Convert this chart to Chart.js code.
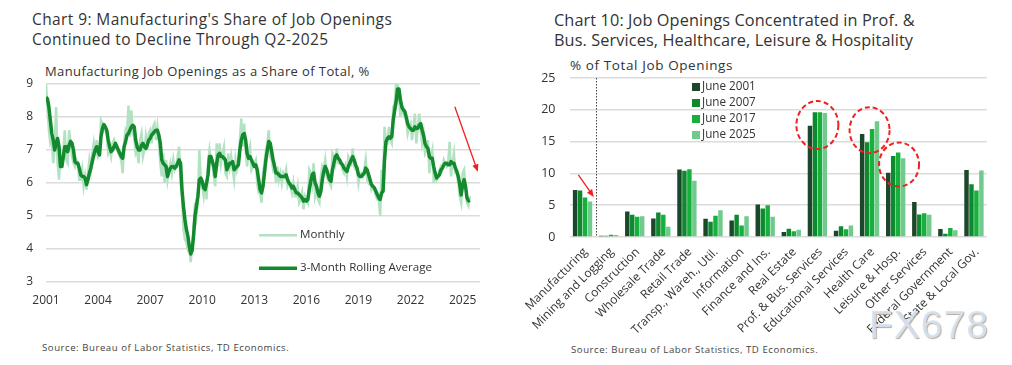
<!DOCTYPE html>
<html>
<head>
<meta charset="utf-8">
<script src="https://cdn.jsdelivr.net/npm/chart.js@4.4.1/dist/chart.umd.min.js"></script>
<style>
  body { margin: 0; background: #fff; width: 1012px; height: 365px; overflow: hidden; position: relative; font-family: "Open Sans", sans-serif; color: #333; }
  .title { position: absolute; white-space: nowrap; color: #333; }
  .sub { position: absolute; white-space: nowrap; color: #333; }
  .src { position: absolute; font-size: 9.6px; letter-spacing: 0.55px; white-space: nowrap; color: #444; }
  .wm { position: absolute; left: 869px; top: 303px; font: 39px "Liberation Sans", sans-serif; letter-spacing: 1px; color: rgba(214, 227, 242, 0.9); text-shadow: 1px 1px 1px rgba(170, 150, 130, 0.8); }
  canvas { position: absolute; top: 0; }
</style>
</head>
<body>
<div class="title" style="left:32px; top:10px; font-size:15.5px; letter-spacing:0.4px; line-height:19.5px;">Chart 9: Manufacturing's Share of Job Openings<br>Continued to Decline Through Q2-2025</div>
<div class="sub" style="left:45px; top:62px; font-size:13px; letter-spacing:0.4px;">Manufacturing Job Openings as a Share of Total, %</div>
<div class="src" style="left:42px; top:341px;">Source: Bureau of Labor Statistics, TD Economics.</div>

<div class="title" style="left:554px; top:10px; font-size:16.3px; letter-spacing:0.1px; line-height:20px;">Chart 10: Job Openings Concentrated in Prof. &amp;<br>Bus. Services, Healthcare, Leisure &amp; Hospitality</div>
<div class="sub" style="left:570px; top:56px; font-size:13.5px; letter-spacing:0.6px;">% of Total Job Openings</div>
<div class="src" style="left:571px; top:343px;">Source: Bureau of Labor Statistics, TD Economics.</div>

<canvas id="c1" width="500" height="365" style="left:0"></canvas>
<canvas id="c2" width="506" height="365" style="left:506px"></canvas>
<div class="wm">FX678</div>

<script>
// ---- Chart 9 data: monthly, Jan 2001 - Jun 2025 ----
const startYear = 2001;
const yearTicks = [2001, 2004, 2007, 2010, 2013, 2016, 2019, 2022, 2025];

const monthly = [
  9.0, 8.3, 7.6, 7.2, 7.3, 6.6, 7.1, 8.3, 6.6, 6.1, 6.8, 6.7,
  7.0, 7.6, 6.7, 6.6, 7.6, 7.2, 6.8, 6.6, 6.5, 6.7, 6.6, 6.1,
  6.1, 6.4, 5.9, 6.2, 5.8, 6.3, 6.7, 6.4, 6.9, 7.2, 6.8, 7.3,
  6.8, 6.9, 7.9, 7.8, 7.6, 7.7, 7.5, 6.9, 7.0, 6.8, 7.2, 7.3,
  7.1, 7.0, 6.9, 6.8, 6.7, 6.3, 7.2, 7.6, 7.5, 8.35, 7.4, 8.2,
  7.5, 7.4, 6.9, 7.0, 6.6, 7.3, 7.5, 6.8, 7.0, 7.4, 7.0, 7.5,
  7.6, 7.2, 7.7, 7.8, 7.3, 7.7, 7.3, 6.6, 6.2, 6.9, 6.0, 6.7,
  6.1, 6.4, 6.6, 6.3, 6.7, 6.4, 6.5, 6.8, 7.1, 6.0, 5.6, 4.6,
  4.3, 4.2, 4.0, 4.1, 3.6, 4.0, 4.6, 5.4, 5.0, 5.4, 7.0, 6.1,
  5.9, 5.6, 6.0, 5.5, 6.6, 7.0, 6.7, 6.6, 6.2, 5.9, 7.2, 6.5,
  7.2, 6.6, 6.9, 7.1, 6.3, 6.2, 6.9, 6.5, 6.8, 6.4, 6.1, 6.7,
  6.4, 6.6, 7.3, 7.95, 7.1, 7.8, 7.0, 6.5, 6.9, 7.1, 6.4, 6.5,
  6.6, 6.7, 6.0, 5.7, 5.7, 5.4, 6.3, 6.6, 7.0, 7.2, 7.6, 6.8,
  6.7, 6.4, 6.5, 6.0, 6.5, 6.1, 6.3, 6.0, 6.3, 6.2, 6.4, 5.9,
  6.0, 5.9, 5.7, 6.0, 5.6, 5.6, 5.9, 5.4, 5.5, 5.7, 5.2, 5.6,
  5.5, 5.4, 6.4, 6.3, 6.0, 6.6, 5.6, 5.8, 5.5, 5.4, 6.2, 6.5,
  6.4, 6.7, 6.2, 6.1, 6.0, 5.9, 6.9, 6.8, 6.6, 7.05, 6.6, 6.6,
  6.6, 6.4, 6.3, 6.5, 6.2, 6.8, 6.7, 6.6, 7.05, 6.5, 6.4, 6.4,
  6.0, 6.3, 6.3, 6.2, 6.4, 6.7, 6.1, 6.0, 6.1, 5.8, 5.9, 5.8,
  5.6, 5.5, 5.5, 5.0, 6.4, 5.9, 7.7, 7.2, 7.2, 7.7, 7.3, 7.2,
  8.3, 8.4, 9.0, 9.0, 8.6, 8.0, 8.4, 8.1, 8.0, 7.9, 7.5, 7.7,
  7.8, 7.3, 7.7, 8.1, 7.2, 7.7, 8.1, 7.6, 7.2, 7.5, 6.9, 7.0,
  7.3, 6.3, 6.8, 7.0, 6.0, 6.3, 6.1, 6.2, 6.4, 6.5, 6.4, 6.7,
  6.6, 6.5, 6.6, 7.25, 6.2, 6.6, 6.9, 6.3, 6.3, 6.0, 5.6, 5.4,
  6.3, 6.4, 5.9, 5.4, 5.3, 5.6
];

const rollingAvg = [
  8.6, 8.55, 8.3, 7.9, 7.5, 7.3, 7.0, 7.2, 7.35, 7.1, 6.5, 6.5,
  6.8, 7.1, 7.1, 6.95, 7.15, 7.26, 7.2, 7.0, 6.65, 6.6, 6.6, 6.45,
  6.25, 6.2, 6.2, 6.15, 5.95, 6.1, 6.3, 6.45, 6.65, 6.85, 7.0, 7.1,
  6.95, 6.85, 7.4, 7.65, 7.77, 7.7, 7.6, 7.3, 7.1, 6.95, 7.0, 7.1,
  7.2, 7.1, 7.0, 6.9, 6.8, 6.75, 7.1, 7.25, 7.45, 7.5, 7.6, 7.7,
  7.75, 7.7, 7.3, 7.1, 7.0, 7.0, 7.15, 7.2, 7.1, 7.05, 7.15, 7.3,
  7.35, 7.45, 7.5, 7.56, 7.6, 7.6, 7.45, 7.2, 6.7, 6.6, 6.55, 6.5,
  6.2, 6.35, 6.45, 6.5, 6.5, 6.45, 6.5, 6.6, 6.7, 6.6, 5.8, 5.3,
  4.9, 4.6, 4.4, 4.1, 3.85, 3.95, 4.4, 5.0, 5.3, 5.6, 6.1, 6.15,
  6.05, 5.85, 5.8, 6.0, 6.25, 6.8, 6.8, 6.65, 6.5, 6.2, 6.6, 6.85,
  6.9, 6.8, 6.8, 6.75, 6.7, 6.4, 6.5, 6.6, 6.6, 6.65, 6.4, 6.45,
  6.5, 6.55, 7.0, 7.3, 7.46, 7.5, 7.3, 6.9, 6.75, 6.8, 6.7, 6.6,
  6.5, 6.55, 6.4, 6.1, 5.8, 5.7, 5.9, 6.3, 6.7, 7.0, 7.26, 7.2,
  6.95, 6.7, 6.5, 6.3, 6.3, 6.25, 6.2, 6.2, 6.2, 6.2, 6.25, 6.1,
  6.0, 5.95, 5.85, 5.9, 5.8, 5.7, 5.7, 5.65, 5.6, 5.55, 5.45, 5.5,
  5.45, 5.5, 5.8, 6.05, 6.25, 6.3, 6.0, 5.9, 5.7, 5.6, 5.75, 6.1,
  6.35, 6.5, 6.4, 6.25, 6.1, 6.05, 6.4, 6.6, 6.8, 6.85, 6.75, 6.7,
  6.6, 6.55, 6.45, 6.4, 6.35, 6.5, 6.6, 6.7, 6.8, 6.7, 6.55, 6.45,
  6.25, 6.2, 6.2, 6.25, 6.3, 6.45, 6.4, 6.25, 6.1, 5.95, 5.9, 5.85,
  5.75, 5.65, 5.55, 5.5, 5.7, 5.75, 6.7, 7.25, 7.35, 7.4, 7.36, 7.4,
  7.9, 8.2, 8.45, 8.85, 8.85, 8.5, 8.3, 8.22, 8.17, 8.0, 7.8, 7.7,
  7.65, 7.6, 7.6, 7.7, 7.65, 7.66, 7.75, 7.8, 7.6, 7.45, 7.2, 7.1,
  7.05, 6.8, 6.75, 6.75, 6.5, 6.3, 6.15, 6.2, 6.25, 6.4, 6.45, 6.55,
  6.6, 6.6, 6.55, 6.55, 6.65, 6.6, 6.6, 6.45, 6.35, 6.2, 5.95, 5.64,
  5.95, 6.1, 5.9, 5.55, 5.46, 5.48
];

// ---- Chart 10 data ----
const sectors = ['Manufacturing', 'Mining and Logging', 'Construction', 'Wholesale Trade', 'Retail Trade',
  'Transp., Wareh., Util.', 'Information', 'Finance and Ins.', 'Real Estate', 'Prof. & Bus. Services',
  'Educational Services', 'Health Care', 'Leisure & Hosp.', 'Other Services', 'Federal Government', 'State & Local Gov.'];
const june2001 = [7.4, 0.2, 4.0, 2.9, 10.6, 2.85, 2.6, 5.1, 0.8, 17.5, 1.0, 16.2, 10.1, 5.5, 1.25, 10.55];
const june2007 = [7.3, 0.2, 3.5, 3.85, 10.4, 2.4, 3.5, 4.5, 1.3, 19.6, 1.7, 14.9, 12.75, 3.55, 0.5, 8.3];
const june2017 = [6.2, 0.35, 3.2, 3.5, 10.65, 3.35, 1.8, 5.0, 0.9, 19.6, 1.2, 17.0, 13.3, 3.75, 1.4, 7.3];
const june2025 = [5.6, 0.3, 3.25, 1.6, 8.85, 4.2, 3.25, 3.2, 1.15, 19.5, 1.8, 18.2, 12.4, 3.5, 1.05, 10.45];

const FONT = '"Open Sans"';
const TXT = '#333';
const GRID = '#dcdcdc';
const RED = '#f02020';

function arrow(ctx, x1, y1, x2, y2) {
  const a = Math.atan2(y2 - y1, x2 - x1), h = 8;
  ctx.save();
  ctx.strokeStyle = RED; ctx.fillStyle = RED; ctx.lineWidth = 1.3;
  ctx.beginPath(); ctx.moveTo(x1, y1); ctx.lineTo(x2 - Math.cos(a) * h * 0.8, y2 - Math.sin(a) * h * 0.8); ctx.stroke();
  ctx.beginPath();
  ctx.moveTo(x2, y2);
  ctx.lineTo(x2 - h * Math.cos(a - 0.4), y2 - h * Math.sin(a - 0.4));
  ctx.lineTo(x2 - h * Math.cos(a + 0.4), y2 - h * Math.sin(a + 0.4));
  ctx.closePath(); ctx.fill();
  ctx.restore();
}

// legend + arrow for chart 9
const lineExtras = {
  id: 'lineExtras',
  afterDraw(chart) {
    const { ctx, scales: { x, y } } = chart;
    const items = [
      { label: 'Monthly', color: '#b3e2c2', w: 2.5, v: 4.42 },
      { label: '3-Month Rolling Average', color: '#138a2d', w: 3.5, v: 3.42 }
    ];
    ctx.save();
    ctx.font = '11.6px ' + FONT;
    ctx.textBaseline = 'middle';
    items.forEach(it => {
      const yy = y.getPixelForValue(it.v);
      ctx.strokeStyle = it.color; ctx.lineWidth = it.w;
      ctx.beginPath(); ctx.moveTo(259, yy); ctx.lineTo(297, yy); ctx.stroke();
      ctx.fillStyle = TXT; ctx.fillText(it.label, 300, yy);
    });
    ctx.restore();
    arrow(ctx, x.getPixelForValue(282.6), y.getPixelForValue(8.31), x.getPixelForValue(298.5), y.getPixelForValue(6.34));
  }
};

new Chart(document.getElementById('c1'), {
  type: 'line',
  data: {
    datasets: [
      { label: '3-Month Rolling Average', data: rollingAvg.map((v, i) => ({ x: i, y: v })),
        borderColor: '#138a2d', borderWidth: 3.5, pointRadius: 0, tension: 0, borderJoinStyle: 'round' },
      { label: 'Monthly', data: monthly.map((v, i) => ({ x: i, y: v })),
        borderColor: '#b3e2c2', borderWidth: 2.5, pointRadius: 0, tension: 0 }
    ]
  },
  options: {
    responsive: false, animation: false,
    layout: { padding: { top: 84, right: 20, left: 0, bottom: 0 } },
    plugins: { legend: { display: false }, tooltip: { enabled: false } },
    scales: {
      x: {
        type: 'linear', min: 0, max: 300,
        afterBuildTicks: s => { s.ticks = yearTicks.map(yr => ({ value: (yr - startYear) * 12 })); },
        afterFit: s => { s.height = 83; },
        grid: { display: false }, border: { display: false },
        ticks: {
          autoSkip: false, maxRotation: 0, padding: 3,
          font: { family: FONT, size: 12 }, color: TXT,
          callback: v => String(startYear + v / 12)
        }
      },
      y: {
        min: 3, max: 9,
        afterFit: s => { s.width = 46; },
        grid: { color: GRID, lineWidth: 1.5, drawTicks: false }, border: { display: false },
        ticks: { stepSize: 1, padding: 13, font: { family: FONT, size: 12 }, color: TXT }
      }
    }
  },
  plugins: [lineExtras]
});

// dotted divider, legend, circles, arrow for chart 10
const barExtras = {
  id: 'barExtras',
  afterDraw(chart) {
    const { ctx, chartArea: a, scales: { x, y } } = chart;
    ctx.save();
    const dx = Math.round((x.getPixelForValue(0) + x.getPixelForValue(1)) / 2) + 0.5;
    ctx.strokeStyle = '#444'; ctx.lineWidth = 1; ctx.setLineDash([1.5, 1.5]);
    ctx.beginPath(); ctx.moveTo(dx, a.top); ctx.lineTo(dx, a.bottom); ctx.stroke();
    ctx.setLineDash([]);
    ctx.font = '11.7px ' + FONT; ctx.textBaseline = 'middle';
    chart.data.datasets.forEach((ds, i) => {
      const yy = 87 + i * 16;
      ctx.fillStyle = ds.backgroundColor;
      ctx.fillRect(186, yy - 4, 8, 8);
      ctx.fillStyle = TXT; ctx.fillText(ds.label, 196, yy);
    });
    ctx.strokeStyle = RED; ctx.lineWidth = 2; ctx.setLineDash([5, 3]);
    [[9, 17.6, 21, 24], [11, 16.8, 20, 23], [12.13, 11.4, 20, 22]].forEach(([c, v, rx, ry]) => {
      ctx.beginPath();
      ctx.ellipse(x.getPixelForValue(c), y.getPixelForValue(v), rx, ry, 0, 0, Math.PI * 2);
      ctx.stroke();
    });
    ctx.restore();
    arrow(ctx, x.getPixelForValue(-0.16), y.getPixelForValue(9.75), x.getPixelForValue(0.43), y.getPixelForValue(6.3));
  }
};

new Chart(document.getElementById('c2'), {
  type: 'bar',
  data: {
    labels: sectors,
    datasets: [
      { label: 'June 2001', data: june2001, backgroundColor: '#1b472a' },
      { label: 'June 2007', data: june2007, backgroundColor: '#0d8a2e' },
      { label: 'June 2017', data: june2017, backgroundColor: '#16b03c' },
      { label: 'June 2025', data: june2025, backgroundColor: '#6fca8c' }
    ]
  },
  options: {
    responsive: false, animation: false,
    layout: { padding: { top: 78, right: 25, left: 0, bottom: 0 } },
    plugins: { legend: { display: false }, tooltip: { enabled: false } },
    datasets: { bar: { categoryPercentage: 0.76, barPercentage: 0.9 } },
    scales: {
      x: {
        afterFit: s => { s.height = 128; },
        grid: { display: false }, border: { display: false },
        ticks: { autoSkip: false, maxRotation: 45, minRotation: 45, padding: 0, labelOffset: 3,
          font: { family: FONT, size: 12 }, color: TXT }
      },
      y: {
        min: 0, max: 25,
        afterFit: s => { s.width = 63.5; },
        grid: { color: GRID, lineWidth: 1.5, drawTicks: false }, border: { display: false },
        ticks: { stepSize: 5, padding: 14, font: { family: FONT, size: 12.5 }, color: TXT }
      }
    }
  },
  plugins: [barExtras]
});
</script>
</body>
</html>
